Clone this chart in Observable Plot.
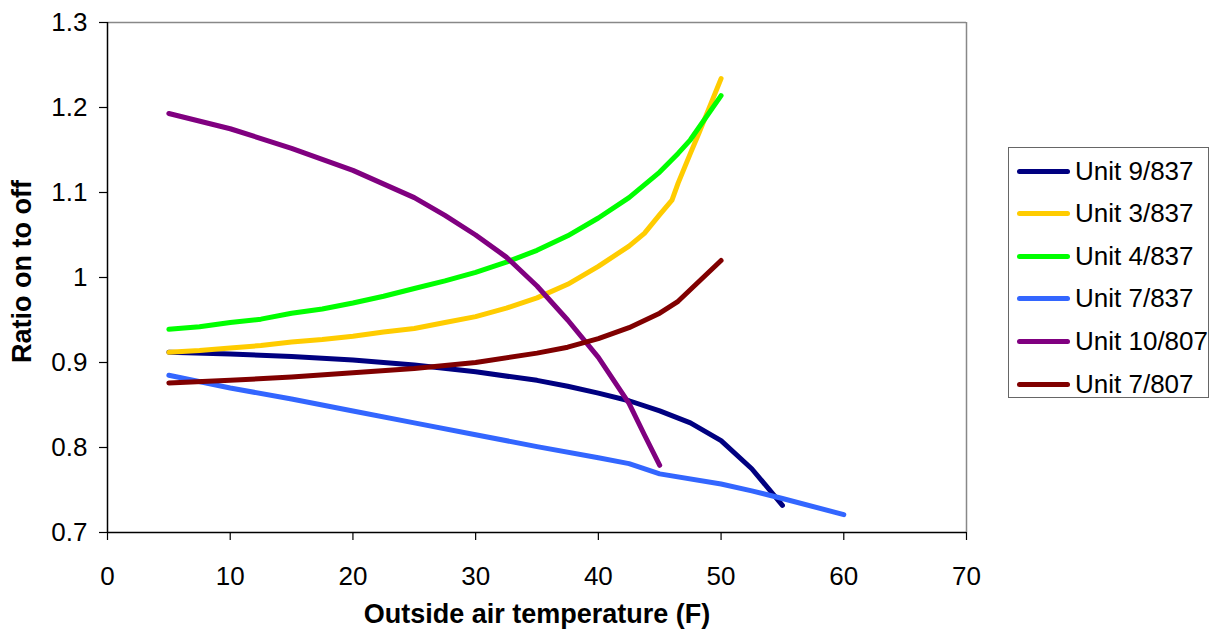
<!DOCTYPE html>
<html>
<head>
<meta charset="utf-8">
<script src="https://cdn.jsdelivr.net/npm/d3@7"></script>
<script src="https://cdn.jsdelivr.net/npm/@observablehq/plot@0.6"></script>
<style>
  html, body { margin: 0; padding: 0; background: #fff; }
  #wrap { position: relative; width: 1214px; height: 634px; font-family: "Liberation Sans", Arial, sans-serif; }
  #legend { position: absolute; left: 1008px; top: 147px; width: 201px; height: 251px; border: 1px solid #666; box-sizing: border-box; background: #fff; }
  .item { position: absolute; left: 8px; height: 30px; display: flex; align-items: center; }
  .swatch { width: 53px; height: 5px; border-radius: 3px; margin-right: 5px; }
  .lab { font-size: 26px; color: #000; white-space: nowrap; }
</style>
</head>
<body>
<div id="wrap"><div id="chart"></div><div id="legend"></div></div>
<script>
const seriesNames = ["Unit 9/837", "Unit 3/837", "Unit 4/837", "Unit 7/837", "Unit 10/807", "Unit 7/807"];
const seriesColors = ["#000080", "#FFCC00", "#00FF00", "#3366FF", "#800080", "#800000"];

const unit9_837_x = [5, 10, 15, 20, 25, 30, 35, 37.5, 40, 42.5, 45, 47.5, 50, 52.5, 55];
const unit9_837_y = [0.912, 0.910, 0.907, 0.903, 0.897, 0.889, 0.879, 0.872, 0.864, 0.855, 0.843, 0.829, 0.808, 0.775, 0.732];

const unit3_837_x = [5, 7.5, 10, 12.5, 15, 17.5, 20, 22.5, 25, 27.5, 30, 32.5, 35, 37.5, 40, 42.5, 43.75, 45, 46, 46.5, 47.5, 48.2, 50];
const unit3_837_y = [0.912, 0.914, 0.917, 0.920, 0.924, 0.927, 0.931, 0.936, 0.940, 0.947, 0.954, 0.964, 0.976, 0.992, 1.013, 1.037, 1.052, 1.074, 1.091, 1.111, 1.146, 1.170, 1.234];

const unit4_837_x = [5, 7.5, 10, 12.5, 15, 17.5, 20, 22.5, 25, 27.5, 30, 32.5, 35, 37.5, 40, 42.5, 45, 46.5, 47.5, 50];
const unit4_837_y = [0.939, 0.942, 0.947, 0.951, 0.958, 0.963, 0.970, 0.978, 0.987, 0.996, 1.006, 1.018, 1.032, 1.049, 1.070, 1.094, 1.124, 1.146, 1.162, 1.214];

const unit7_837_x = [5, 10, 15, 20, 25, 30, 35, 40, 42.5, 45, 50, 52.5, 55, 60];
const unit7_837_y = [0.885, 0.870, 0.857, 0.843, 0.829, 0.815, 0.801, 0.788, 0.781, 0.769, 0.757, 0.749, 0.740, 0.721];

const unit10_807_x = [5, 10, 15, 20, 25, 27.5, 30, 32.5, 35, 37.5, 40, 42.5, 43.75, 45];
const unit10_807_y = [1.193, 1.175, 1.152, 1.126, 1.094, 1.073, 1.050, 1.024, 0.990, 0.950, 0.906, 0.852, 0.815, 0.779];

const unit7_807_x = [5, 10, 15, 20, 25, 30, 35, 37.5, 40, 42.5, 45, 46.5, 50];
const unit7_807_y = [0.876, 0.879, 0.883, 0.888, 0.893, 0.900, 0.911, 0.918, 0.928, 0.941, 0.958, 0.972, 1.020];

const xTicks = [0, 10, 20, 30, 40, 50, 60, 70];
const yTicks = [0.7, 0.8, 0.9, 1, 1.1, 1.2, 1.3];
const xTitle = "Outside air temperature (F)";
const yTitle = "Ratio on to off";

const allX = [unit9_837_x, unit3_837_x, unit4_837_x, unit7_837_x, unit10_807_x, unit7_807_x];
const allY = [unit9_837_y, unit3_837_y, unit4_837_y, unit7_837_y, unit10_807_y, unit7_807_y];

const rows = [];
seriesNames.forEach((name, i) => {
  allX[i].forEach((x, j) => rows.push({series: name, x, y: allY[i][j]}));
});

const chart = Plot.plot({
  width: 1214,
  height: 634,
  marginLeft: 107,
  marginTop: 22,
  marginBottom: 102,
  marginRight: 248,
  style: {fontFamily: "'Liberation Sans', Arial, sans-serif", fontSize: "26px", color: "#000", background: "#fff"},
  x: {domain: [0, 70]},
  y: {domain: [0.7, 1.3]},
  color: {domain: seriesNames, range: seriesColors},
  marks: [
    Plot.ruleY([1.3], {stroke: "#888", strokeWidth: 1.5}),
    Plot.ruleX([70], {stroke: "#888", strokeWidth: 1.5}),
    Plot.axisX({ticks: xTicks, tickSize: 8, tickPadding: 26, tickFormat: d => String(d), label: null, strokeWidth: 1.2, fontSize: 26}),
    Plot.axisY({ticks: yTicks, tickSize: 8, tickPadding: 12, tickFormat: d => String(+d.toFixed(1)), label: null, strokeWidth: 1.2, fontSize: 26}),
    Plot.ruleX([0], {stroke: "#000", strokeWidth: 1.5}),
    Plot.ruleY([0.7], {stroke: "#000", strokeWidth: 1.5}),
    Plot.line(rows, {x: "x", y: "y", z: "series", stroke: "series", strokeWidth: 5, strokeLinecap: "round", strokeLinejoin: "round"}),
    Plot.text([xTitle], {frameAnchor: "bottom", lineAnchor: "middle", textAnchor: "middle", dy: 82, text: d => d, fontWeight: "bold", fontSize: 27}),
    Plot.text([yTitle], {frameAnchor: "left", lineAnchor: "middle", textAnchor: "middle", dx: -85, dy: -6, rotate: -90, text: d => d, fontWeight: "bold", fontSize: 27})
  ]
});
document.getElementById("chart").appendChild(chart);

const legend = document.getElementById("legend");
seriesNames.forEach((name, i) => {
  const it = document.createElement("div");
  it.className = "item";
  it.style.top = (8 + i * 42.6) + "px";
  it.innerHTML = `<div class="swatch" style="background:${seriesColors[i]}"></div><div class="lab">${name}</div>`;
  legend.appendChild(it);
});
</script>
</body>
</html>
